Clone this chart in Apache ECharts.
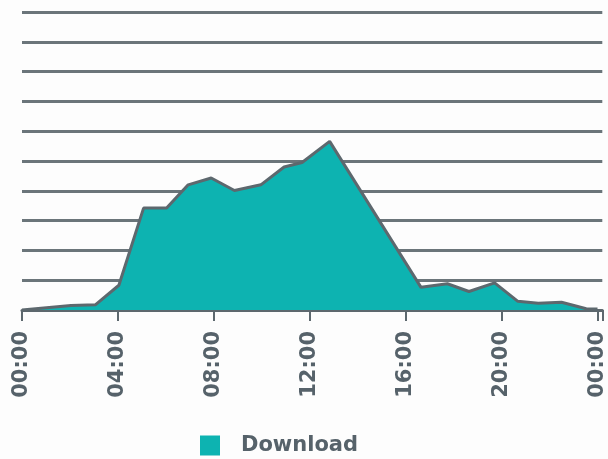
<!DOCTYPE html>
<html>
<head>
<meta charset="utf-8">
<script src="https://cdn.jsdelivr.net/npm/echarts@6/dist/echarts.min.js"></script>
<style>
  html, body { margin: 0; padding: 0; background: #fdfdfd; }
  #chart { width: 608px; height: 459px; }
</style>
</head>
<body>
<div id="chart"></div>
<script>
  // hour of day (x) and download level (y)
  const hours = [0, 2.04, 3.07, 4.04, 5.07, 6.03, 6.93, 7.89, 8.86, 9.96, 10.93, 11.68, 12.83,
                 16.64, 17.74, 18.64, 19.71, 20.68, 21.53, 22.5, 23.53, 24];
  const download = [0, 0.15, 0.18, 0.83, 3.42, 3.42, 4.2, 4.43, 4.01, 4.2, 4.8, 4.95, 5.66,
                    0.76, 0.88, 0.62, 0.91, 0.29, 0.23, 0.26, 0.04, 0.03];
  const tickHours = [0, 4, 8, 12, 16, 20, 24];
  const seriesName = 'Download';

  const gray = '#5d686e';
  const teal = '#0db3b1';

  let points = [];
  for (let i = 0; i < hours.length; i++) {
      points.push([hours[i], download[i]]);
  }

  var myChart = echarts.init(document.getElementById('chart'));
  var option = {
      backgroundColor: '#fdfdfd',
      animation: false,
      textStyle: { fontFamily: 'DejaVu Sans' },
      grid: { left: 22, right: 0, top: 12, bottom: 149 },
      legend: {
          data: [seriesName],
          left: 195,
          top: 430,
          icon: 'rect',
          itemWidth: 20,
          itemHeight: 20,
          textStyle: {
              color: '#56626a',
              fontSize: 21,
              fontWeight: 'bold',
              fontFamily: 'DejaVu Sans',
              padding: [0, 0, 0, 16]
          }
      },
      xAxis: {
          type: 'value',
          min: 0,
          max: 24.2,
          interval: 4,
          splitLine: { show: false },
          axisLine: { show: true, lineStyle: { color: gray, width: 3 } },
          axisTick: { show: true, length: 11, lineStyle: { color: gray, width: 2 } },
          axisLabel: {
              rotate: 90,
              margin: 21,
              color: '#56626a',
              fontSize: 21,
              fontWeight: 'bold',
              fontFamily: 'DejaVu Sans',
              formatter: function (v) {
                  if (tickHours.indexOf(v) < 0) return '';
                  let h = v % 24;
                  return (h < 10 ? '0' : '') + h + ':00';
              }
          }
      },
      yAxis: {
          type: 'value',
          min: 0,
          max: 10,
          interval: 1,
          axisLine: { show: false },
          axisTick: { show: false },
          axisLabel: { show: false },
          splitLine: { lineStyle: { color: '#6b757a', width: 3 } }
      },
      series: [{
          name: seriesName,
          type: 'line',
          symbol: 'none',
          smooth: false,
          itemStyle: { color: teal },
          lineStyle: { color: gray, width: 3 },
          areaStyle: { color: teal, opacity: 1 },
          data: points
      }]
  };
  myChart.setOption(option);
</script>
</body>
</html>
